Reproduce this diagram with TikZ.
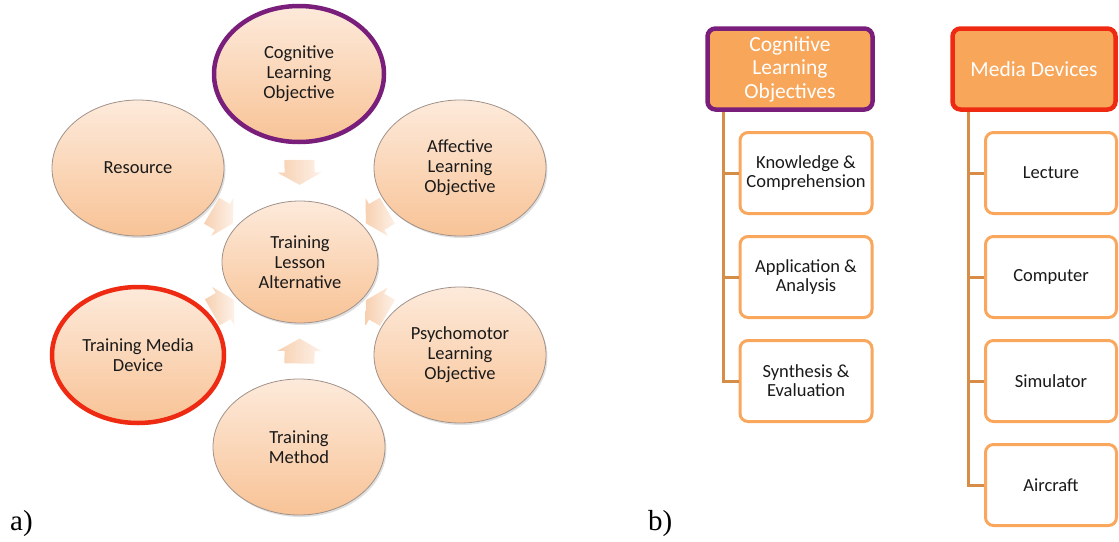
\documentclass[tikz,border=0pt]{standalone}
\usepackage{fontspec}
\setmainfont{Carlito}
\newfontfamily\capfont{Liberation Serif}
\usetikzlibrary{shapes.geometric,shadows,calc}

\definecolor{peachtop}{HTML}{FDEADB}
\definecolor{peachbot}{HTML}{F8C396}
\definecolor{rimgray}{HTML}{A0928A}
\definecolor{cogpurple}{HTML}{7A1E7C}
\definecolor{mediared}{HTML}{EE2A12}
\definecolor{hdrorange}{HTML}{F8A65A}
\definecolor{boxorange}{HTML}{F9A75C}
\definecolor{spine}{HTML}{D68D48}
\definecolor{arrowtail}{HTML}{F7D0B0}
\definecolor{arrowtip}{HTML}{FDF1E8}
\definecolor{ink}{HTML}{1A1A1A}

\tikzset{
  bubble/.style={ellipse, minimum width=172pt, minimum height=136pt, inner sep=0pt,
    align=center, top color=peachtop, bottom color=peachbot, draw=rimgray,
    line width=0.8pt, text=ink, font=\fontsize{18.5}{20}\selectfont,
    drop shadow={opacity=0.25, shadow xshift=1.5pt, shadow yshift=-2pt}},
  hub/.style={bubble, minimum width=156pt, minimum height=122pt},
  cogring/.style={draw=cogpurple, line width=4.5pt, minimum width=170pt},
  redring/.style={draw=mediared, line width=4.5pt},
  header/.style={rectangle, rounded corners=8pt, fill=hdrorange, line width=4.5pt,
    minimum width=165pt, minimum height=81pt, align=center, text=white,
    font=\fontsize{21.5}{23.5}\selectfont,
    drop shadow={opacity=0.25, shadow xshift=1pt, shadow yshift=-2pt}},
  leaf/.style={rectangle, rounded corners=8pt, fill=white, draw=boxorange,
    line width=3pt, minimum width=132pt, minimum height=81pt, align=center,
    text=ink, font=\fontsize{18.5}{19}\selectfont},
  spineline/.style={draw=spine, line width=3pt},
  panel/.style={font=\capfont\fontsize{29}{32}\selectfont, anchor=base west,
    inner sep=0pt},
  blockarr/.pic={
    \shade[left color=arrowtail, right color=arrowtip]
      (-12.5,-15) -- (0,-15) -- (0,-22) -- (12.5,0) -- (0,22) -- (0,15)
      -- (-12.5,15) -- cycle;
  }
}

\begin{document}
\begin{tikzpicture}[x=1pt,y=-1pt]
\useasboundingbox (0,0) rectangle (1119,541);

% ---- cycle of learning inputs around the lesson alternative ----
\node[bubble, cogring] (cog) at (299,74)  {Cognitive\\Learning\\Objective};
\node[bubble]          (aff) at (460,168) {Affective\\Learning\\Objective};
\node[bubble]          (res) at (138,168) {Resource};
\node[bubble, redring] (tmd) at (138,355) {Training Media\\Device};
\node[bubble]          (psy) at (460,355) {Psychomotor\\Learning\\Objective};
\node[bubble]          (tme) at (299,447) {Training\\Method};
\node[hub]             (hub) at (300,262) {Training\\Lesson\\Alternative};

% block arrows in the gaps, each pointing at the hub
\foreach \src in {cog,aff,res,tmd,psy,tme}{
  \path (\src) -- (hub) coordinate[pos=0.5] (gap-\src);
  \path let \p1=($(hub)-(\src)$), \n1={atan2(\y1,\x1)} in
    (gap-\src) pic[rotate=\n1] {blockarr};
}

% ---- hierarchy lists ----
\node[header, draw=cogpurple] (h1) at (790,69) {Cognitive\\Learning\\Objectives};
\node[leaf] (k1) at (806,173) {Knowledge \&\\Comprehension};
\node[leaf] (k2) at (806,277) {Application \&\\Analysis};
\node[leaf] (k3) at (806,381) {Synthesis \&\\Evaluation};

\node[header, draw=mediared, minimum width=163pt] (h2) at (1034,69) {Media Devices};
\node[leaf, minimum width=131pt] (m1) at (1051,173) {Lecture};
\node[leaf, minimum width=131pt] (m2) at (1051,277) {Computer};
\node[leaf, minimum width=131pt] (m3) at (1051,381) {Simulator};
\node[leaf, minimum width=131pt] (m4) at (1051,485) {Aircraft};

\foreach \leafname in {k1,k2,k3}
  \draw[spineline] ([xshift=18pt]h1.south west) |- (\leafname.west);
\foreach \leafname in {m1,m2,m3,m4}
  \draw[spineline] ([xshift=18pt]h2.south west) |- (\leafname.west);

% ---- panel captions ----
\node[panel] (pa) at (10,530) {a)};
\node[panel] (pb) at (648,530) {b)};
\end{tikzpicture}
\end{document}
